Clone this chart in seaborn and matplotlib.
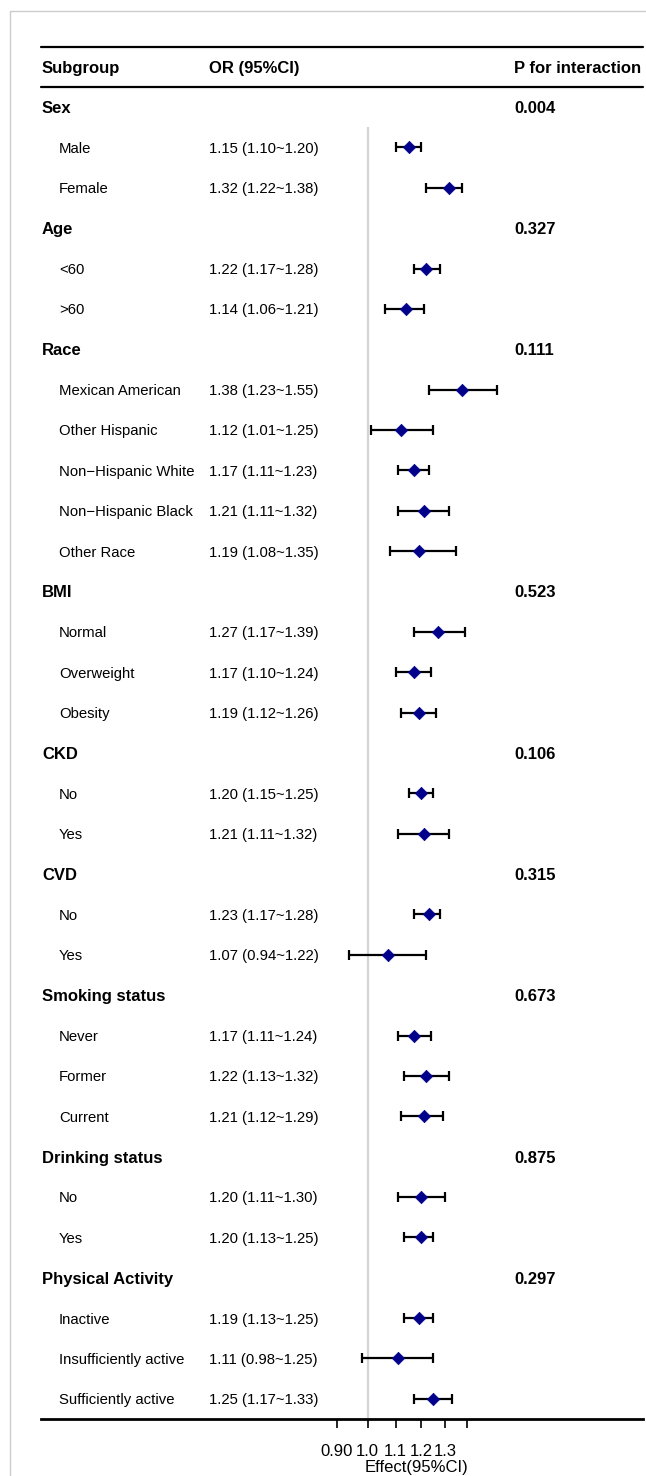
import numpy as np
import pandas as pd
import matplotlib
matplotlib.use("Agg")
import matplotlib.pyplot as plt
from matplotlib.lines import Line2D
from matplotlib.ticker import NullLocator
from matplotlib.transforms import offset_copy
import seaborn as sns

# ---- data -------------------------------------------------------------
groups = ["Sex", "Age", "Race", "BMI", "CKD", "CVD",
          "Smoking status", "Drinking status", "Physical Activity"]
p_interaction = ["0.004", "0.327", "0.111", "0.523", "0.106",
                 "0.315", "0.673", "0.875", "0.297"]
group_sizes = [2, 2, 5, 3, 2, 2, 3, 2, 3]

subgroups = ["Male", "Female",
             "<60", ">60",
             "Mexican American", "Other Hispanic", "Non\u2212Hispanic White",
             "Non\u2212Hispanic Black", "Other Race",
             "Normal", "Overweight", "Obesity",
             "No", "Yes",
             "No", "Yes",
             "Never", "Former", "Current",
             "No", "Yes",
             "Inactive", "Insufficiently active", "Sufficiently active"]
or_est = [1.15, 1.32,
          1.22, 1.14,
          1.38, 1.12, 1.17, 1.21, 1.19,
          1.27, 1.17, 1.19,
          1.20, 1.21,
          1.23, 1.07,
          1.17, 1.22, 1.21,
          1.20, 1.20,
          1.19, 1.11, 1.25]
ci_low = [1.10, 1.22,
          1.17, 1.06,
          1.23, 1.01, 1.11, 1.11, 1.08,
          1.17, 1.10, 1.12,
          1.15, 1.11,
          1.17, 0.94,
          1.11, 1.13, 1.12,
          1.11, 1.13,
          1.13, 0.98, 1.17]
ci_high = [1.20, 1.38,
           1.28, 1.21,
           1.55, 1.25, 1.23, 1.32, 1.35,
           1.39, 1.24, 1.26,
           1.25, 1.32,
           1.28, 1.22,
           1.24, 1.32, 1.29,
           1.30, 1.25,
           1.25, 1.25, 1.33]

x_ticks = [0.9, 1.0, 1.1, 1.2, 1.3, 1.4]
x_tick_labels = ["0.90", "1.0", "1.1", "1.2", "1.3", ""]

# ---- row layout -------------------------------------------------------
group_rows, sub_rows = [], []
r = 0
for n in group_sizes:
    group_rows.append(r)
    r += 1
    for _ in range(n):
        sub_rows.append(r)
        r += 1
n_rows = r

df = pd.DataFrame({"label": subgroups, "OR": or_est, "lo": ci_low,
                   "hi": ci_high, "row": sub_rows})
df["or_text"] = [f"{o:.2f} ({l:.2f}~{h:.2f})"
                 for o, l, h in zip(df.OR, df.lo, df.hi)]

# ---- figure -----------------------------------------------------------
sns.set_theme(style="white")
plt.rcParams["font.family"] = ["Liberation Sans", "DejaVu Sans"]

W, H = 646, 1476
fig = plt.figure(figsize=(W / 100, H / 100), dpi=100)

left_px, right_px = 41, 643
top_px, bottom_px = 46.5, 1419
ax = fig.add_axes([left_px / W, 1 - bottom_px / H,
                   (right_px - left_px) / W, (bottom_px - top_px) / H])

# log effect scale: reference (1.0) sits at 367.7 px, 294.2 px per ln unit
ref_px, px_per_ln = 367.7, 294.2
ax.set_xscale("log")
ax.set_xlim(np.exp((left_px - ref_px) / px_per_ln),
            np.exp((right_px - ref_px) / px_per_ln))
ax.set_ylim(n_rows - 0.5, -1.5)

# reference line at OR = 1
ax.vlines(1.0, 0.5, n_rows - 0.5, color="#d4d4d4", lw=1.6, zorder=0)

# confidence intervals and point estimates
ax.errorbar(df["OR"], df["row"],
            xerr=[df["OR"] - df["lo"], df["hi"] - df["OR"]],
            fmt="none", ecolor="black", elinewidth=1.6,
            capsize=3.4, capthick=1.6, zorder=2)
sns.scatterplot(data=df, x="OR", y="row", marker="D", s=40,
                color="#00008B", edgecolor="#00008B", linewidth=0.5,
                legend=False, zorder=3, ax=ax)

# table rules
ax.axhline(-1.5, color="black", lw=1.6, clip_on=False)
ax.axhline(-0.5, color="black", lw=1.6, clip_on=False)

for side in ["top", "left", "right"]:
    ax.spines[side].set_visible(False)
ax.spines["bottom"].set_color("black")
ax.spines["bottom"].set_linewidth(2.0)

ax.set_xticks(x_ticks)
ax.set_xticklabels(x_tick_labels)
ax.xaxis.set_minor_locator(NullLocator())
ax.tick_params(axis="x", which="major", bottom=True, length=6.5,
               width=1.2, color="black", labelsize=12, pad=11.5,
               labelcolor="black")
ax.set_yticks([])
ax.set_ylabel("")
ax.set_xlabel("Effect(95%CI)", fontsize=12, color="black")
ax.xaxis.set_label_coords((416.7 - left_px) / (right_px - left_px),
                          -(1460 - bottom_px) / (bottom_px - top_px))

# ---- table text -------------------------------------------------------
trans = offset_copy(ax.get_yaxis_transform(), fig=fig, y=-1.5, units="dots")
span = right_px - left_px
x_group = (42 - left_px) / span
x_sub = (59 - left_px) / span
x_or = (209 - left_px) / span
x_p = (514 - left_px) / span

bold = dict(fontsize=12, fontweight="bold", va="center", color="black",
            transform=trans)
normal = dict(fontsize=10.7, va="center", color="black", transform=trans)

ax.text(x_group, -1, "Subgroup", **bold)
ax.text(x_or, -1, "OR (95%CI)", **bold)
ax.text(x_p, -1, "P for interaction", **bold)

for g, p, rr in zip(groups, p_interaction, group_rows):
    ax.text(x_group, rr, g, **bold)
    ax.text(x_p, rr, p, **bold)

for lab, txt, rr in zip(df["label"], df["or_text"], df["row"]):
    ax.text(x_sub, rr, lab, **normal)
    ax.text(x_or, rr, txt, **normal)

# thin outer frame
frame = dict(transform=fig.transFigure, color="#cccccc", lw=1)
fig.add_artist(Line2D([9.5 / W, 9.5 / W], [0, 1 - 10.5 / H], **frame))
fig.add_artist(Line2D([9.5 / W, 1], [1 - 10.5 / H, 1 - 10.5 / H], **frame))

fig.savefig("out.png", dpi=100, facecolor="white")
